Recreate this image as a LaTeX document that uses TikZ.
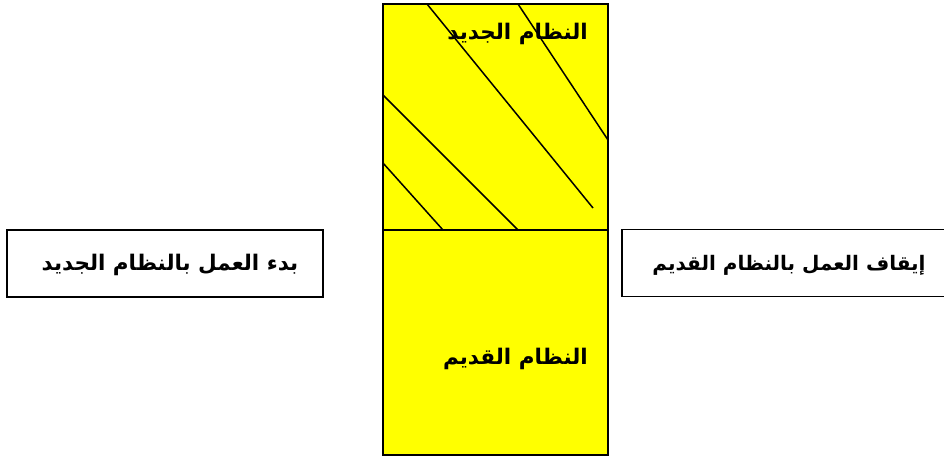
\documentclass[tikz,border=0pt]{standalone}
\usepackage{fontspec}
\newfontfamily\arabicfont[Script=Arabic]{DejaVu Sans}
\TeXXeTstate=1
\definecolor{system}{RGB}{255,255,0}
\tikzstyle{frame}=[draw=black, line width=1.5pt]
\tikzset{hatch/.style={line width=1.5pt}}
\tikzstyle{caption}=[font=\arabicfont\bfseries\fontsize{21.5}{24}\selectfont, inner sep=0pt]
\tikzstyle{stepbox}=[frame, minimum height=67pt]

\begin{document}
\begin{tikzpicture}[x=1pt,y=-1pt]
  \useasboundingbox (0,0) rectangle (944,458);

  %% the two systems, one above the other
  \draw[frame, fill=system] (383,4) rectangle (608,230);
  \draw[frame, fill=system] (383,230) rectangle (608,455);

  %% hatching over the new one
  \draw[hatch] (427,4) -- (593,208);
  \draw[hatch] (518,4) -- (608,140);
  \draw[hatch] (383,95) -- (518,230);
  \draw[hatch] (383,163) -- (443,230);

  \draw (588,34) node[caption, anchor=east] (newsys) {\beginR النظام الجديد\endR};
  \draw (588,359) node[caption, anchor=east] (oldsys) {\beginR النظام القديم\endR};

  %% start / stop
  \draw (165,263.5) node[stepbox, minimum width=316pt] (start) {};
  \draw (170,265) node[caption] (starttxt) {\beginR بدء العمل بالنظام الجديد\endR};
  \draw (790,263) node[stepbox, minimum width=336pt] (stop) {};
  \draw (789,265) node[caption, font=\arabicfont\bfseries\fontsize{20}{24}\selectfont] (stoptxt) {\beginR إيقاف العمل بالنظام القديم\endR};
\end{tikzpicture}
\end{document}
